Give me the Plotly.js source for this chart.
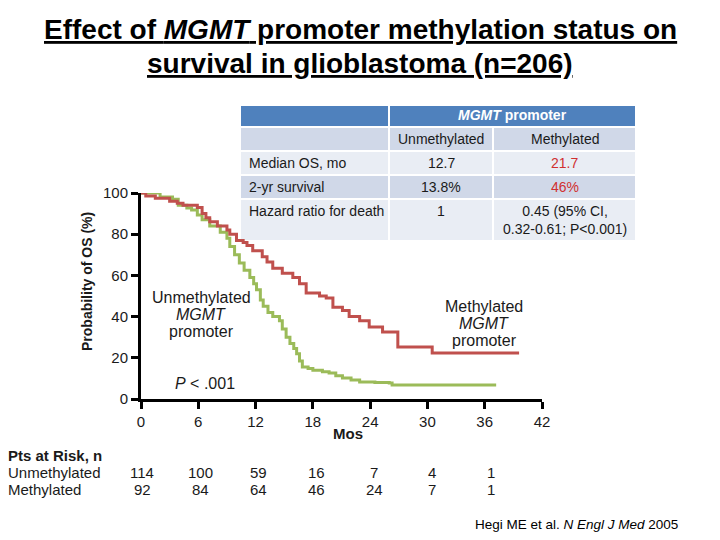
<!DOCTYPE html>
<html>
<head>
<meta charset="utf-8">
<script src="https://cdn.plot.ly/plotly-3.0.1.min.js"></script>
<style>html,body{margin:0;padding:0;background:#fff;}#chart{width:720px;height:540px;}</style>
</head>
<body>
<div id="chart"></div>
<script>
// ---- Kaplan-Meier data (months, % surviving) ----
const methylatedMonths = [0, 0.5, 1.5, 3.0, 3.8, 4.4, 5.9, 6.4, 6.8, 7.2, 8.0, 9.0, 9.3, 10.0, 10.7, 11.1, 11.7, 12.7, 13.2, 13.8, 14.8, 15.9, 16.6, 17.3, 18.7, 19.4, 20.1, 21.1, 21.8, 22.9, 23.9, 25.3, 26.9, 30.5, 39.6];
const methylatedSurv   = [100, 98.5, 97.5, 96, 95, 94, 93, 90, 88, 86, 84, 82, 80, 77, 76, 74.5, 72, 69, 66.5, 63.5, 61, 59, 56, 51.5, 50, 49, 44.5, 43, 40, 38, 35, 32.5, 25.2, 22.3, 22.3];
const unmethylatedMonths = [0, 2.0, 3.3, 3.9, 4.8, 5.3, 5.9, 6.4, 7.2, 8.3, 9.0, 9.3, 9.8, 10.3, 10.8, 11.4, 11.8, 12.1, 12.5, 12.8, 13.3, 13.8, 14.5, 14.8, 15.2, 15.6, 16.0, 16.3, 16.6, 16.9, 17.5, 18.0, 19.0, 19.7, 20.4, 21.1, 22.0, 22.9, 24.5, 26.0, 26.3, 37.2];
const unmethylatedSurv   = [100, 98, 97, 94, 92.7, 91.7, 89.3, 87, 84, 81, 78, 74, 70, 66, 62.5, 59, 56, 53, 48, 45, 42, 40, 38, 34, 30, 27, 24.5, 22, 18.5, 15.5, 14.8, 14, 13.2, 12.6, 11.3, 10.2, 9.2, 8.3, 8.0, 7.8, 6.8, 6.8];

const xTicks = [0, 6, 12, 18, 24, 30, 36, 42];
const yTicks = [0, 20, 40, 60, 80, 100];

// ---- Patients at risk ----
const riskMonths = [0, 6, 12, 18, 24, 30, 36];
const riskUnmethylated = [114, 100, 59, 16, 7, 4, 1];
const riskMethylated = [92, 84, 64, 46, 24, 7, 1];

// ---- Summary table ----
const tableHeader = '<b><i>MGMT</i> promoter</b>';
const tableColumns = ['Unmethylated', 'Methylated'];
const tableRowLabels = ['Median OS, mo', '2-yr survival', 'Hazard ratio for death'];
const tableUnmethylated = ['12.7', '13.8%', '1'];
const tableMethylated = ['21.7', '46%', '0.45 (95% CI,<br>0.32-0.61; P&lt;0.001)'];

// ---- geometry helpers (pixel -> paper) ----
const L = 141, R = 542, T = 193, B = 399;
const px = x => (x - L) / (R - L);
const py = y => (B - y) / (B - T);

const RED = '#C0504D', GREEN = '#9BBB59', TXT = '#1a1a1a';
const FONT = 'Liberation Sans, Arial, sans-serif';

const traces = [
  {x: unmethylatedMonths, y: unmethylatedSurv, type: 'scatter', mode: 'lines',
   line: {shape: 'hv', color: GREEN, width: 3}, cliponaxis: false, hoverinfo: 'skip'},
  {x: methylatedMonths, y: methylatedSurv, type: 'scatter', mode: 'lines',
   line: {shape: 'hv', color: RED, width: 3}, cliponaxis: false, hoverinfo: 'skip'}
];

const shapes = [];
const annotations = [];
function note(x, y, text, size, opts) {
  annotations.push(Object.assign({xref: 'paper', yref: 'paper', x: px(x), y: py(y), text: text,
    showarrow: false, xanchor: 'center', yanchor: 'middle',
    font: {family: FONT, size: size, color: TXT}}, opts || {}));
}

// table cells
const colX = [[241, 388], [390, 492], [494, 635]];
const rowY = [[106, 126], [128, 150], [152, 174], [176, 198], [200, 240]];
const rowFill = ['#4F81BD', '#D0D8E8', '#E9EDF4', '#D0D8E8', '#E9EDF4'];
function cell(x0, x1, y0, y1, fill) {
  shapes.push({type: 'rect', xref: 'paper', yref: 'paper', x0: px(x0), x1: px(x1), y0: py(y1), y1: py(y0),
               fillcolor: fill, line: {width: 0}, layer: 'below'});
}
cell(colX[0][0], colX[0][1], rowY[0][0], rowY[0][1], rowFill[0]);
cell(colX[1][0], colX[2][1], rowY[0][0], rowY[0][1], rowFill[0]);
note((colX[1][0] + colX[2][1]) / 2, 115, tableHeader, 14, {font: {family: FONT, size: 14, color: '#fff'}});
for (let c = 0; c < 3; c++) cell(colX[c][0], colX[c][1], rowY[1][0], rowY[1][1], rowFill[1]);
tableColumns.forEach((t, i) => note((colX[i + 1][0] + colX[i + 1][1]) / 2, 139, t, 14));
tableRowLabels.forEach((lab, r) => {
  const yr = rowY[r + 2];
  for (let c = 0; c < 3; c++) cell(colX[c][0], colX[c][1], yr[0], yr[1], rowFill[r + 2]);
  const yTxt = r === 2 ? 211 : (yr[0] + yr[1]) / 2;
  note(247, yTxt, lab, 14, {xanchor: 'left'});
  note((colX[1][0] + colX[1][1]) / 2, yTxt, tableUnmethylated[r], 14);
  const multi = tableMethylated[r].indexOf('<br>') >= 0;
  note((colX[2][0] + colX[2][1]) / 2, multi ? 219.5 : yTxt, tableMethylated[r], 14,
       {font: {family: FONT, size: 14, color: multi ? TXT : '#D03030'}});
});

// curve labels (line by line for tight spacing)
['Unmethylated', '<i>MGMT</i>', 'promoter'].forEach((t, i) => note(201, 297 + i * 17, t, 16));
['Methylated', '<i>MGMT</i>', 'promoter'].forEach((t, i) => note(484, 306 + i * 17, t, 16));
note(205, 383, '<i>P</i> &lt; .001', 16);

// axis titles
note(87, 282, '<b>Probability of OS (%)</b>', 14, {textangle: -90});
note(348, 433, '<b>Mos</b>', 15);

// patients at risk
note(6, 455, '<b>Pts at Risk, n</b>', 15, {xanchor: 'left'});
note(6, 472, 'Unmethylated', 15, {xanchor: 'left'});
note(6, 489, 'Methylated', 15, {xanchor: 'left'});
riskMonths.forEach((m, i) => {
  annotations.push({xref: 'x', yref: 'paper', x: m, y: py(472), xshift: 1 + i * 0.8, showarrow: false,
    xanchor: 'center', yanchor: 'middle',
    text: String(riskUnmethylated[i]), font: {family: FONT, size: 15, color: TXT}});
  annotations.push({xref: 'x', yref: 'paper', x: m, y: py(489), xshift: 1 + i * 0.8, showarrow: false,
    xanchor: 'center', yanchor: 'middle',
    text: String(riskMethylated[i]), font: {family: FONT, size: 15, color: TXT}});
});

// citation
note(680, 524, 'Hegi ME et al. <i>N Engl J Med</i> 2005', 13.5, {xanchor: 'right', font: {family: FONT, size: 13.5, color: '#000'}});

// title (two underlined bold lines)
const U = s => '<b><span style="text-decoration:underline">' + s + '</span></b>';
note(360, 30, U('Effect of <i>MGMT</i> promoter methylation status on'), 28, {font: {family: FONT, size: 28, color: '#000'}});
note(360, 63, U('survival in glioblastoma (n=206)'), 28, {font: {family: FONT, size: 28, color: '#000'}});

const layout = {
  width: 720, height: 540,
  margin: {l: L, r: 720 - R, t: T, b: 540 - B, pad: 0},
  paper_bgcolor: '#fff', plot_bgcolor: '#fff',
  showlegend: false,
  font: {family: FONT, color: TXT},
  xaxis: {
    range: [0, 42], tickvals: xTicks, ticktext: xTicks.map(String),
    showgrid: false, zeroline: false, showline: true, linecolor: '#000', linewidth: 3,
    ticks: 'outside', ticklen: 7, tickwidth: 3, tickcolor: '#000',
    tickfont: {family: FONT, size: 15, color: TXT}, fixedrange: true
  },
  yaxis: {
    range: [0, 100], tickvals: yTicks, ticktext: yTicks.map(String),
    showgrid: false, zeroline: false, showline: true, linecolor: '#000', linewidth: 3,
    ticks: 'outside', ticklen: 7, tickwidth: 3, tickcolor: '#000',
    tickfont: {family: FONT, size: 15, color: TXT}, fixedrange: true
  },
  shapes: shapes,
  annotations: annotations
};

Plotly.newPlot('chart', traces, layout, {staticPlot: true, displayModeBar: false});
</script>
</body>
</html>
